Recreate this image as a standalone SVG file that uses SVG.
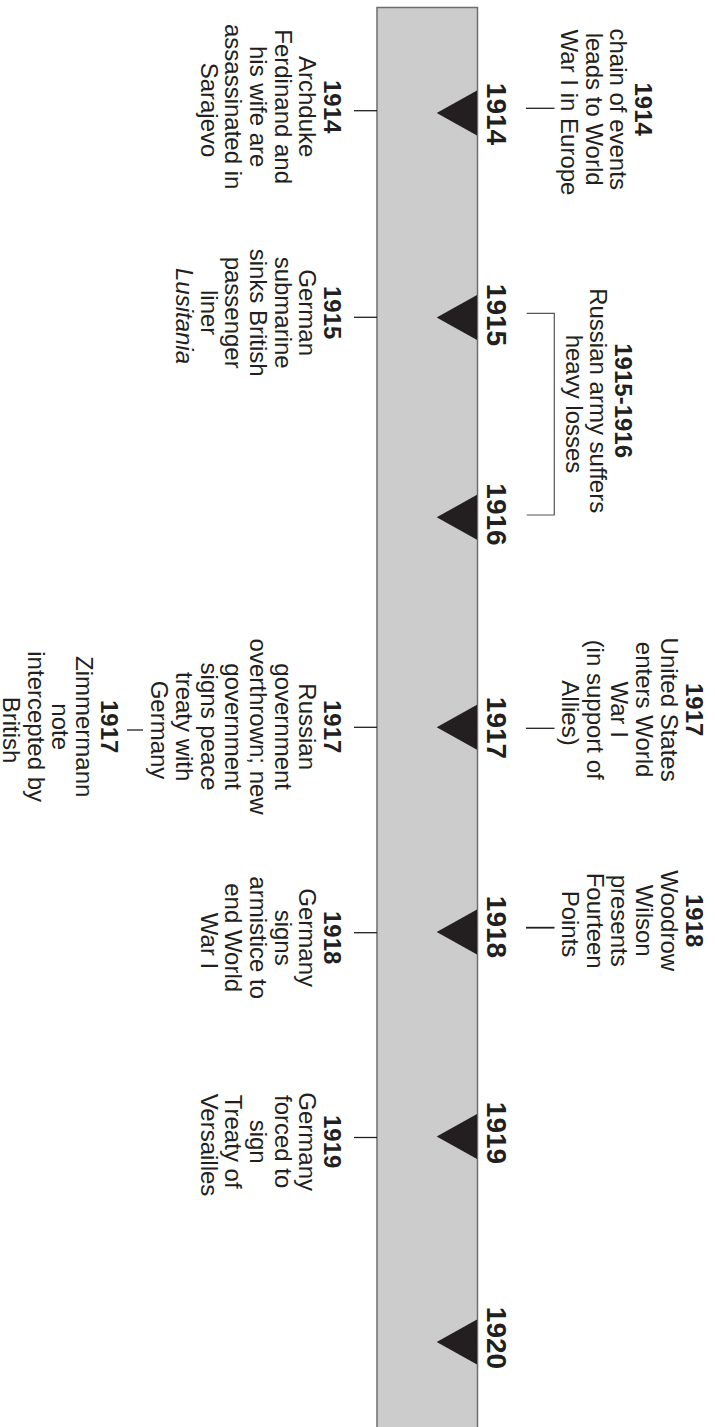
<svg xmlns="http://www.w3.org/2000/svg" width="715" height="1427" viewBox="0 0 715 1427">
  <style>
    .t { font-family: "Liberation Sans", Arial, sans-serif; font-size: 24px; fill: #231f20; text-anchor: middle; }
    .b { font-weight: bold; }
    .i { font-style: italic; }
    .yr { font-family: "Liberation Sans", Arial, sans-serif; font-size: 28px; font-weight: bold; fill: #231f20; text-anchor: middle; }
    .bar { fill: #cccccc; stroke: #6d6d6d; stroke-width: 1.5; }
    .tri { fill: #231f20; }
    .ln { stroke: #231f20; stroke-width: 1.3; fill: none; }
    .br { stroke: #555555; stroke-width: 1.2; fill: none; }
  </style>
  <rect width="715" height="1427" fill="#ffffff"/>
  <g transform="translate(715,0) rotate(90)">
    <g id="timeline-bar">
      <rect class="bar" x="7.5" y="237.5" width="1440" height="100.5"/>
    </g>

    <g id="year-1914">
      <polygon class="tri" points="90.5,238 135.5,238 113,278.3"/>
      <text class="yr" x="114" y="228.5">1914</text>
    </g>
    <g id="year-1915">
      <polygon class="tri" points="295,238 340,238 317.5,278.3"/>
      <text class="yr" x="315" y="228.5">1915</text>
    </g>
    <g id="year-1916">
      <polygon class="tri" points="494.8,238 539.8,238 517.3,278.3"/>
      <text class="yr" x="514.5" y="228.5">1916</text>
    </g>
    <g id="year-1917">
      <polygon class="tri" points="704.8,238 749.8,238 727.3,278.3"/>
      <text class="yr" x="728" y="228.5">1917</text>
    </g>
    <g id="year-1918">
      <polygon class="tri" points="909.5,238 954.5,238 932,278.3"/>
      <text class="yr" x="927" y="228.5">1918</text>
    </g>
    <g id="year-1919">
      <polygon class="tri" points="1114,238 1159,238 1136.5,278.3"/>
      <text class="yr" x="1133" y="228.5">1919</text>
    </g>
    <g id="year-1920">
      <polygon class="tri" points="1319.5,238 1364.5,238 1342,278.3"/>
      <text class="yr" x="1338" y="228.5">1920</text>
    </g>

    <g id="connectors">
      <line class="ln" x1="110.7" y1="338" x2="110.7" y2="361"/>
      <line class="ln" x1="317.3" y1="338" x2="317.3" y2="361"/>
      <line class="ln" x1="727.3" y1="338" x2="727.3" y2="361"/>
      <line class="ln" x1="932.7" y1="338" x2="932.7" y2="361"/>
      <line class="ln" x1="1137.5" y1="338" x2="1137.5" y2="361"/>
      <line class="ln" x1="108.3" y1="160.5" x2="108.3" y2="189"/>
      <line class="ln" x1="728.3" y1="160.5" x2="728.3" y2="189"/>
      <line class="ln" x1="927.7" y1="160.5" x2="927.7" y2="189" style="stroke-width:1.8"/>
      <path class="br" d="M313.3,188.3 V160.7 H515 V188.3"/>
      <line class="ln" x1="730" y1="572" x2="730" y2="588"/>
    </g>

    <g id="evt-1914-europe">
      <text class="t">
        <tspan class="b" x="112.5" y="80">1914</tspan>
        <tspan x="112.5" y="104.7">chain of events</tspan>
        <tspan x="112.5" y="129.4">leads to World</tspan>
        <tspan x="112.5" y="154.1">War I in Europe</tspan>
      </text>
    </g>
    <g id="evt-1914-sarajevo">
      <text class="t">
        <tspan class="b" x="110" y="391">1914</tspan>
        <tspan x="110" y="415.7">Archduke</tspan>
        <tspan x="110" y="440.4">Ferdinand and</tspan>
        <tspan x="110" y="465.1">his wife are</tspan>
        <tspan x="110" y="489.8">assassinated in</tspan>
        <tspan x="110" y="514.5">Sarajevo</tspan>
      </text>
    </g>
    <g id="evt-1915-lusitania">
      <text class="t">
        <tspan class="b" x="316" y="391">1915</tspan>
        <tspan x="316" y="415.7">German</tspan>
        <tspan x="316" y="440.4">submarine</tspan>
        <tspan x="316" y="465.1">sinks British</tspan>
        <tspan x="316" y="489.8">passenger</tspan>
        <tspan x="316" y="514.5">liner</tspan>
        <tspan class="i" x="316" y="539.2">Lusitania</tspan>
      </text>
    </g>
    <g id="evt-1915-1916-russia">
      <text class="t">
        <tspan class="b" x="404" y="100">1915-1916</tspan>
        <tspan x="404" y="124.7">Russian army suffers</tspan>
        <tspan x="404" y="149.4">heavy losses</tspan>
      </text>
    </g>
    <g id="evt-1917-us">
      <text class="t">
        <tspan class="b" x="713" y="29.5">1917</tspan>
        <tspan x="713" y="54.2">United States</tspan>
        <tspan x="713" y="78.9">enters World</tspan>
        <tspan x="713" y="103.6">War I</tspan>
        <tspan x="713" y="128.3">(in support of</tspan>
        <tspan x="713" y="153">Allies)</tspan>
      </text>
    </g>
    <g id="evt-1917-russia">
      <text class="t">
        <tspan class="b" x="730" y="391">1917</tspan>
        <tspan x="730" y="415.7">Russian</tspan>
        <tspan x="730" y="440.4">government</tspan>
        <tspan x="730" y="465.1">overthrown; new</tspan>
        <tspan x="730" y="489.8">government</tspan>
        <tspan x="730" y="514.5">signs peace</tspan>
        <tspan x="730" y="539.2">treaty with</tspan>
        <tspan x="730" y="563.9">Germany</tspan>
      </text>
    </g>
    <g id="evt-1917-zimmermann">
      <text class="t">
        <tspan class="b" x="730" y="614.5">1917</tspan>
        <tspan x="730" y="638.8">Zimmermann</tspan>
        <tspan x="730" y="663.1">note</tspan>
        <tspan x="730" y="687.4">intercepted by</tspan>
        <tspan x="730" y="711.7">British</tspan>
      </text>
    </g>
    <g id="evt-1918-wilson">
      <text class="t">
        <tspan class="b" x="924" y="29.5">1918</tspan>
        <tspan x="924" y="54.2">Woodrow</tspan>
        <tspan x="924" y="78.9">Wilson</tspan>
        <tspan x="924" y="103.6">presents</tspan>
        <tspan x="924" y="128.3">Fourteen</tspan>
        <tspan x="924" y="153">Points</tspan>
      </text>
    </g>
    <g id="evt-1918-armistice">
      <text class="t">
        <tspan class="b" x="941" y="391">1918</tspan>
        <tspan x="941" y="415.7">Germany</tspan>
        <tspan x="941" y="440.4">signs</tspan>
        <tspan x="941" y="465.1">armistice to</tspan>
        <tspan x="941" y="489.8">end World</tspan>
        <tspan x="941" y="514.5">War I</tspan>
      </text>
    </g>
    <g id="evt-1919-versailles">
      <text class="t">
        <tspan class="b" x="1145" y="391">1919</tspan>
        <tspan x="1145" y="415.7">Germany</tspan>
        <tspan x="1145" y="440.4">forced to</tspan>
        <tspan x="1145" y="465.1">sign</tspan>
        <tspan x="1145" y="489.8">Treaty of</tspan>
        <tspan x="1145" y="514.5">Versailles</tspan>
      </text>
    </g>
  </g>
</svg>
